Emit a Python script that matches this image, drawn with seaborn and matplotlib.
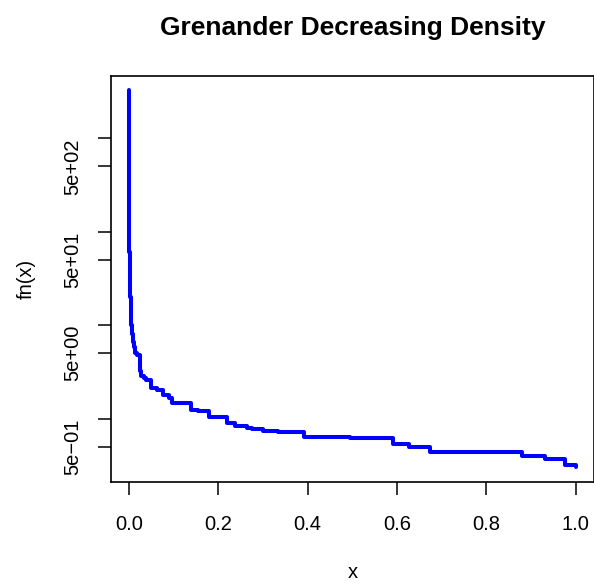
import numpy as np
import pandas as pd
import matplotlib
matplotlib.use("Agg")
import matplotlib.pyplot as plt
import seaborn as sns
from matplotlib.ticker import FixedLocator, FixedFormatter, NullLocator

# Step knots of the Grenander estimate (x = start of each step, fn = value)
x_knots = [0.0000, 0.0001, 0.0002, 0.0003, 0.0005, 0.0008, 0.0012, 0.0017,
           0.0024, 0.0034, 0.0046, 0.0058, 0.0072, 0.0090, 0.0110, 0.0135,
           0.0185, 0.0245, 0.0280, 0.0330, 0.0390, 0.0500, 0.0620, 0.0760,
           0.0890, 0.0960, 0.1120, 0.1390, 0.1550, 0.1800, 0.1960, 0.2200,
           0.2380, 0.2650, 0.2760, 0.3000, 0.3330, 0.3920, 0.4940, 0.5920,
           0.6260, 0.6740, 0.8800, 0.9320, 0.9760, 1.0000]
fn_vals = [3300, 1200, 600, 300, 150, 90, 60, 42,
           28, 20, 14, 10, 8.0, 6.6, 5.9, 5.0,
           4.8, 3.2, 2.85, 2.70, 2.60, 2.11, 2.04, 1.78,
           1.66, 1.48, 1.45, 1.25, 1.19, 1.05, 1.03, 0.89,
           0.83, 0.79, 0.77, 0.74, 0.71, 0.64, 0.62, 0.53,
           0.50, 0.435, 0.40, 0.37, 0.32, 0.30]

x_ticks = [0.0, 0.2, 0.4, 0.6, 0.8, 1.0]
x_tick_labels = ["0.0", "0.2", "0.4", "0.6", "0.8", "1.0"]
y_ticks = [0.5, 1, 5, 10, 50, 100, 500, 1000]
y_tick_labels = ["5e\u221201", "", "5e+00", "", "5e+01", "", "5e+02", ""]

df = pd.DataFrame({"x": x_knots, "fn": fn_vals})

sns.set_style("white")
plt.rcParams["font.family"] = ["Liberation Sans", "DejaVu Sans"]
plt.rcParams["text.color"] = "black"
plt.rcParams["axes.labelcolor"] = "black"

fig = plt.figure(figsize=(5.94, 5.84), dpi=100)
ax = fig.add_axes([0.1869, 0.1747, 0.8126, 0.6957])

sns.lineplot(data=df, x="x", y="fn", ax=ax, color="#0000FF", linewidth=2.9,
             drawstyle="steps-post", estimator=None, sort=False)

ax.set_yscale("log")
ax.set_xlim(-0.04, 1.04)
ax.set_ylim(0.2094, 4688)

ax.xaxis.set_major_locator(FixedLocator(x_ticks))
ax.xaxis.set_major_formatter(FixedFormatter(x_tick_labels))
ax.yaxis.set_major_locator(FixedLocator(y_ticks))
ax.yaxis.set_major_formatter(FixedFormatter(y_tick_labels))
ax.yaxis.set_minor_locator(NullLocator())

for s in ax.spines.values():
    s.set_color("black")
    s.set_linewidth(1.2)

ax.tick_params(axis="both", which="major", direction="out", length=9.5,
               width=1.1, color="black", labelsize=14.5, labelcolor="black",
               bottom=True, left=True)
ax.tick_params(axis="x", pad=14)
ax.tick_params(axis="y", pad=11)
for lab in ax.get_yticklabels():
    lab.set_rotation(90)
    lab.set_va("center")

ax.set_xlabel("x", fontsize=14.5, labelpad=21, color="black")
ax.set_ylabel("fn(x)", fontsize=14.5, labelpad=20, color="black")
fig.suptitle("Grenander Decreasing Density", fontsize=19, fontweight="bold",
             x=0.5935, y=0.972, color="black")

fig.savefig("out.png", dpi=100)
